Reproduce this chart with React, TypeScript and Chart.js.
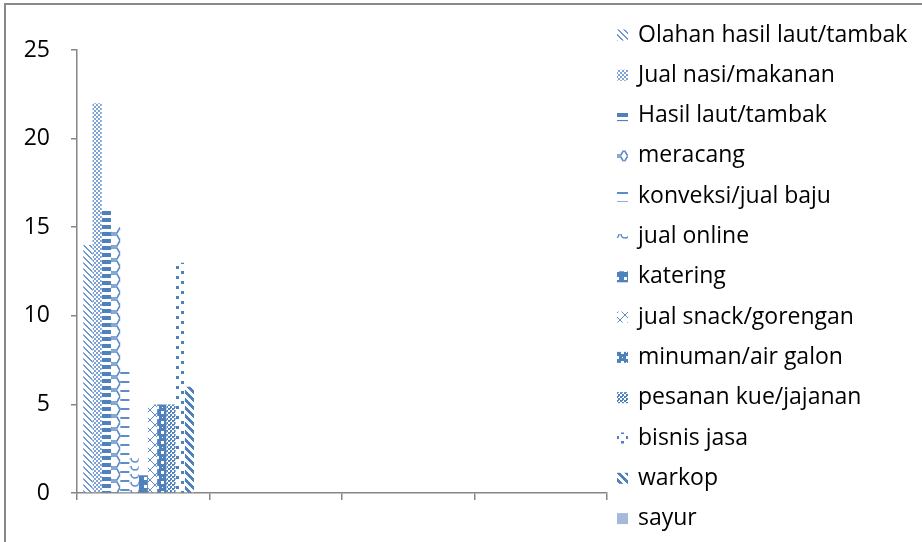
import { useEffect, useRef } from "react";
import { Chart, registerables } from "chart.js";

Chart.register(...registerables);

// ---- data ----
const categories = ["", "", "", ""];
const seriesNames = [
  "Olahan hasil laut/tambak",
  "Jual nasi/makanan",
  "Hasil laut/tambak",
  "meracang",
  "konveksi/jual baju",
  "jual online",
  "katering",
  "jual snack/gorengan",
  "minuman/air galon",
  "pesanan kue/jajanan",
  "bisnis jasa",
  "warkop",
  "sayur",
];
// values for the first category (other categories are empty)
const firstCategoryValues = [14, 22, 16, 15, 7, 2, 1, 5, 5, 5, 13, 6, 0];
const yMin = 0;
const yMax = 25;
const yStep = 5;

const BLUE = "#4F81BD";
const FONT = "'Open Sans'";
const FONT_SIZE = 23;

type Draw = (c: CanvasRenderingContext2D) => void;

function tile(w: number, h: number, draw: Draw, bg = "#ffffff"): CanvasPattern | string {
  const cv = document.createElement("canvas");
  cv.width = w;
  cv.height = h;
  const c = cv.getContext("2d");
  if (!c) return BLUE;
  c.fillStyle = bg;
  c.fillRect(0, 0, w, h);
  c.fillStyle = BLUE;
  c.strokeStyle = BLUE;
  draw(c);
  return c.createPattern(cv, "repeat") || BLUE;
}

function diag(c: CanvasRenderingContext2D, size: number, thick: number, down = true) {
  for (let i = 0; i < size; i++) {
    for (let k = 0; k < thick; k++) {
      const x = down ? (i + k) % size : (size * 2 - i + k) % size;
      c.fillRect(x, i, 1, 1);
    }
  }
}

function makePatterns(): (CanvasPattern | string)[] {
  return [
    // Olahan: light downward diagonal
    tile(6, 6, (c) => {
      c.fillStyle = "#6E98CF";
      diag(c, 6, 2, true);
    }),
    // Jual nasi: small checker
    tile(4, 4, (c) => {
      c.fillStyle = "#7FA3D6";
      c.fillRect(0, 0, 2, 2);
      c.fillRect(2, 2, 2, 2);
    }),
    // Hasil laut: wide horizontal bands
    tile(4, 7, (c) => {
      c.fillRect(0, 1, 4, 4);
    }),
    // meracang: hexagon chain
    tile(12, 13, (c) => {
      c.lineWidth = 1.6;
      c.strokeStyle = "#5E8CC8";
      c.beginPath();
      c.moveTo(0, 6.5);
      c.lineTo(3, 1);
      c.lineTo(9, 1);
      c.lineTo(12, 6.5);
      c.lineTo(9, 12);
      c.lineTo(3, 12);
      c.closePath();
      c.stroke();
    }),
    // konveksi: horizontal lines
    tile(6, 9, (c) => {
      c.fillStyle = "#5E8CC8";
      c.fillRect(0, 3, 6, 2);
    }),
    // jual online: shingle arcs
    tile(10, 8, (c) => {
      c.lineWidth = 1.6;
      c.strokeStyle = "#5E8CC8";
      c.beginPath();
      c.arc(5, 2, 4, 0, Math.PI);
      c.stroke();
    }),
    // katering: large blocks
    tile(8, 8, (c) => {
      c.fillRect(0, 0, 8, 5);
      c.fillRect(3, 5, 5, 3);
    }),
    // jual snack: diagonal cross lattice
    tile(10, 10, (c) => {
      c.fillStyle = "#5E8CC8";
      for (let i = 0; i < 10; i++) {
        c.fillRect(i, i, 1, 1);
        c.fillRect(9 - i, i, 1, 1);
      }
    }),
    // minuman: dark with white dots
    tile(10, 10, (c) => {
      c.fillRect(0, 0, 10, 10);
      c.fillStyle = "#ffffff";
      c.fillRect(1, 1, 3, 3);
      c.fillRect(6, 6, 3, 3);
      c.fillRect(6, 2, 1, 1);
      c.fillRect(2, 7, 1, 1);
    }),
    // pesanan kue: fine checker
    tile(4, 4, (c) => {
      c.fillRect(0, 0, 2, 2);
      c.fillRect(2, 2, 2, 2);
      c.fillRect(2, 0, 1, 1);
    }),
    // bisnis jasa: confetti squares
    tile(10, 10, (c) => {
      c.fillRect(1, 1, 3, 3);
      c.fillRect(6, 6, 3, 3);
    }),
    // warkop: wide downward diagonal dark
    tile(8, 8, (c) => {
      diag(c, 8, 4, true);
    }),
    // sayur: solid light
    "#A7B9DA",
  ];
}

export default function App() {
  const ref = useRef<HTMLCanvasElement | null>(null);

  useEffect(() => {
    document.body.style.margin = "0";
    const canvas = ref.current;
    if (!canvas) return;
    const patterns = makePatterns();

    const datasets = seriesNames.map((name, si) => ({
      label: name,
      data: categories.map((_, ci) => (ci === 0 ? firstCategoryValues[si] : null)),
      backgroundColor: patterns[si] as any,
      borderWidth: 0,
      categoryPercentage: 0.905,
      barPercentage: 1.0,
    }));

    const frame = {
      id: "frame",
      beforeDraw(chart: any) {
        const ctx = chart.ctx;
        ctx.save();
        ctx.fillStyle = "#ffffff";
        ctx.fillRect(0, 0, chart.width, chart.height);
        ctx.strokeStyle = "#898989";
        ctx.lineWidth = 2;
        ctx.beginPath();
        ctx.moveTo(5, chart.height + 2);
        ctx.lineTo(5, 4);
        ctx.lineTo(chart.width + 2, 4);
        ctx.stroke();
        ctx.restore();
      },
    };

    const legend = {
      id: "customLegend",
      afterDraw(chart: any) {
        const ctx = chart.ctx;
        ctx.save();
        ctx.font = `${FONT_SIZE}px ${FONT}`;
        ctx.textBaseline = "middle";
        ctx.textAlign = "left";
        chart.data.datasets.forEach((ds: any, i: number) => {
          const cy = 35 + i * 40.3;
          ctx.fillStyle = ds.backgroundColor;
          ctx.fillRect(617, cy - 5.5, 11, 11);
          ctx.fillStyle = "#000000";
          ctx.fillText(ds.label, 638, cy);
        });
        ctx.restore();
      },
    };

    const chart = new Chart(canvas, {
      type: "bar",
      data: { labels: categories, datasets },
      options: {
        animation: false,
        responsive: false,
        maintainAspectRatio: false,
        layout: { padding: { top: 50, right: 315, bottom: 0, left: 0 } },
        plugins: {
          legend: { display: false },
          tooltip: { enabled: false },
        },
        scales: {
          x: {
            offset: true,
            grid: {
              offset: true,
              drawOnChartArea: false,
              drawTicks: true,
              tickLength: 7,
              color: "#868686",
              lineWidth: 1.5,
            },
            border: { color: "#868686", width: 1.5 },
            ticks: { display: true, font: { family: FONT, size: FONT_SIZE } },
            afterFit: (s: any) => {
              s.height = 49;
            },
          },
          y: {
            min: yMin,
            max: yMax,
            ticks: {
              stepSize: yStep,
              color: "#000000",
              padding: 21,
              font: { family: FONT, size: FONT_SIZE },
            },
            grid: {
              drawOnChartArea: false,
              drawTicks: true,
              tickLength: 6,
              color: "#868686",
              lineWidth: 1.5,
            },
            border: { color: "#868686", width: 1.5 },
            afterFit: (s: any) => {
              s.width = 77;
            },
          },
        },
      },
      plugins: [frame, legend],
    });

    return () => chart.destroy();
  }, []);

  return (
    <div style={{ position: "absolute", left: 0, top: 0, width: 922, height: 542 }}>
      <canvas ref={ref} width={922} height={542} style={{ display: "block" }} />
    </div>
  );
}
